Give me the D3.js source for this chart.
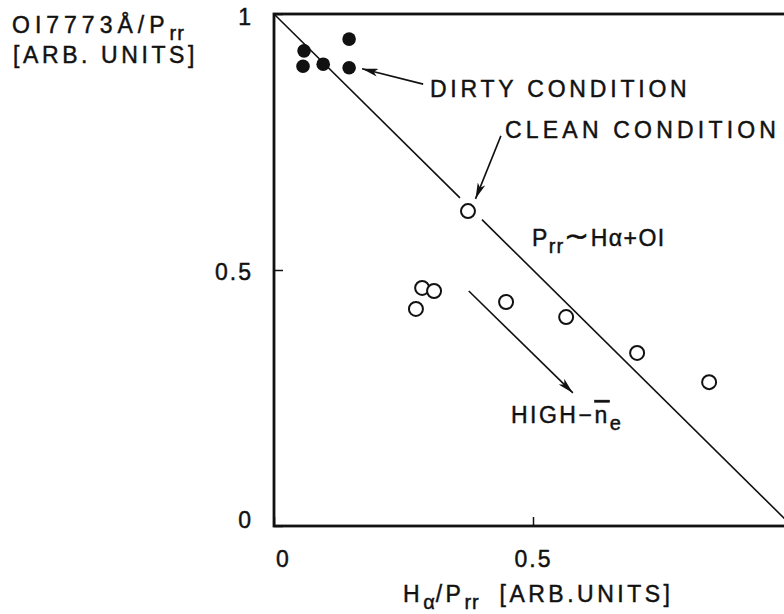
<!DOCTYPE html>
<html>
<head>
<meta charset="utf-8">
<script src="https://cdn.jsdelivr.net/npm/d3@7"></script>
<style>
  html, body { margin: 0; padding: 0; background: #fff; }
  svg { display: block; }
  text { font-family: "Liberation Sans", Arial, Helvetica, sans-serif; fill: #111; stroke: #111; stroke-width: 0.45px; white-space: pre; }
</style>
</head>
<body>
<svg id="chart" width="784" height="614"></svg>
<script>
// Axis ticks
const xTicks = [0, 0.5, 1];
const yTicks = [0, 0.5, 1];
const tickLabels = ["0", "0.5", "1"];

// Dirty-wall discharges (filled dots): Hα/Prr vs OI7773Å/Prr
const dirtyX = [0.145, 0.058, 0.056, 0.095, 0.145];
const dirtyY = [0.951, 0.928, 0.898, 0.902, 0.895];

// Clean-wall discharges (open circles)
const cleanX = [0.3745, 0.286, 0.309, 0.274, 0.448, 0.564, 0.701, 0.840];
const cleanY = [0.615, 0.465, 0.459, 0.424, 0.4375, 0.408, 0.338, 0.281];

// Reference line Prr ~ Hα + OI, broken around the marked clean point
const fitSegments = [
  [[0, 1], [0.359, 0.641]],
  [[0.4015, 0.5985], [1, 0]]
];

// Annotation arrows [from, to] in data units
const arrowDirty = [[0.288, 0.863], [0.170, 0.893]];
const arrowClean = [[0.438, 0.762], [0.389, 0.639]];
const arrowDensity = [[0.376, 0.459], [0.577, 0.260]];

const svg = d3.select("#chart");
const x = d3.scaleLinear().domain([0, 1]).range([274, 792]);
const y = d3.scaleLinear().domain([0, 1]).range([526, 14]);

// Arrowhead marker
svg.append("defs").append("marker")
  .attr("id", "head")
  .attr("viewBox", "0 0 16 8")
  .attr("refX", 16).attr("refY", 4)
  .attr("markerWidth", 16).attr("markerHeight", 8)
  .attr("markerUnits", "userSpaceOnUse")
  .attr("orient", "auto")
  .append("path")
  .attr("d", "M0,0 L16,4 L0,8 L4,4 Z")
  .attr("fill", "#111");

// Frame
svg.append("rect")
  .attr("x", x(0)).attr("y", y(1))
  .attr("width", x(1) - x(0)).attr("height", y(0) - y(1))
  .attr("fill", "none").attr("stroke", "#111").attr("stroke-width", 2.8);

// Axes with inward ticks
const xAxis = d3.axisBottom(x).tickValues(xTicks)
  .tickFormat((d, i) => tickLabels[i])
  .tickSizeInner(-9).tickSizeOuter(0).tickPadding(25);
const gx = svg.append("g").attr("transform", `translate(0,${y(0)})`).call(xAxis);
gx.select(".domain").remove();
gx.attr("font-size", 23).attr("font-family", null);
gx.selectAll("line").attr("stroke", "#111").attr("stroke-width", 1.5);
gx.selectAll("text").attr("fill", "#111").attr("letter-spacing", 2)
  .attr("dx", d => d === 0 ? 9 : 0);

const yAxis = d3.axisLeft(y).tickValues(yTicks)
  .tickFormat((d, i) => tickLabels[i])
  .tickSizeInner(-9).tickSizeOuter(0).tickPadding(21);
const gy = svg.append("g").attr("transform", `translate(${x(0)},0)`).call(yAxis);
gy.select(".domain").remove();
gy.attr("font-size", 23).attr("font-family", null);
gy.selectAll("line").attr("stroke", "#111").attr("stroke-width", 1.5);
gy.selectAll("text").attr("fill", "#111").attr("letter-spacing", 2)
  .attr("dy", d => d === 0 ? "0.05em" : (d === 1 ? "0.45em" : "0.4em"));

// Reference line
svg.append("g").selectAll("line").data(fitSegments).join("line")
  .attr("x1", d => x(d[0][0])).attr("y1", d => y(d[0][1]))
  .attr("x2", d => x(d[1][0])).attr("y2", d => y(d[1][1]))
  .attr("stroke", "#111").attr("stroke-width", 1.6);

// Data points
svg.append("g").selectAll("circle").data(dirtyX.map((v, i) => [v, dirtyY[i]])).join("circle")
  .attr("cx", d => x(d[0])).attr("cy", d => y(d[1])).attr("r", 6.8)
  .attr("fill", "#111");
svg.append("g").selectAll("circle").data(cleanX.map((v, i) => [v, cleanY[i]])).join("circle")
  .attr("cx", d => x(d[0])).attr("cy", d => y(d[1])).attr("r", 7)
  .attr("fill", "#fff").attr("stroke", "#111").attr("stroke-width", 2);

// Arrows
svg.append("g").selectAll("line").data([arrowDirty, arrowClean, arrowDensity]).join("line")
  .attr("x1", d => x(d[0][0])).attr("y1", d => y(d[0][1]))
  .attr("x2", d => x(d[1][0])).attr("y2", d => y(d[1][1]))
  .attr("stroke", "#111").attr("stroke-width", 1.6)
  .attr("marker-end", "url(#head)");

// Labels built from tspans: sub = subscript, back = return to baseline
function label(px, py, parts, ls) {
  const t = svg.append("text").attr("x", px).attr("y", py)
    .attr("font-size", 23).attr("letter-spacing", ls);
  parts.forEach(p => {
    const s = t.append("tspan").text(p.t);
    if (p.sub) s.attr("font-size", 20).attr("dy", 7).attr("letter-spacing", 1);
    if (p.back) s.attr("dy", -7);
    if (p.size) s.attr("font-size", p.size);
    if (p.over) s.attr("text-decoration", "overline");
  });
  return t;
}

label(x(0.301), y(0.838), [{t: "DIRTY CONDITION"}], 3.8);
label(x(0.446), y(0.758), [{t: "CLEAN CONDITION"}], 4.2);
label(x(0.498), y(0.547), [{t: "P"}, {t: "rr", sub: true}, {t: "∼", back: true, size: 30}, {t: "Hα+OI"}], 1.5);
label(x(0.4575), y(0.201), [{t: "HIGH−"}, {t: "n", over: true}, {t: "e", sub: true}], 2.5);

// Axis titles
label(12, 33, [{t: "OI7773Å/P"}, {t: "rr", sub: true}], 5);
label(13, 63, [{t: "[ARB. UNITS]"}], 3.6);
label(403, 602, [{t: "H"}, {t: "α", sub: true}, {t: "/P", back: true}, {t: "rr", sub: true}, {t: "  [ARB.UNITS]", back: true}], 3.5);
</script>
</body>
</html>
